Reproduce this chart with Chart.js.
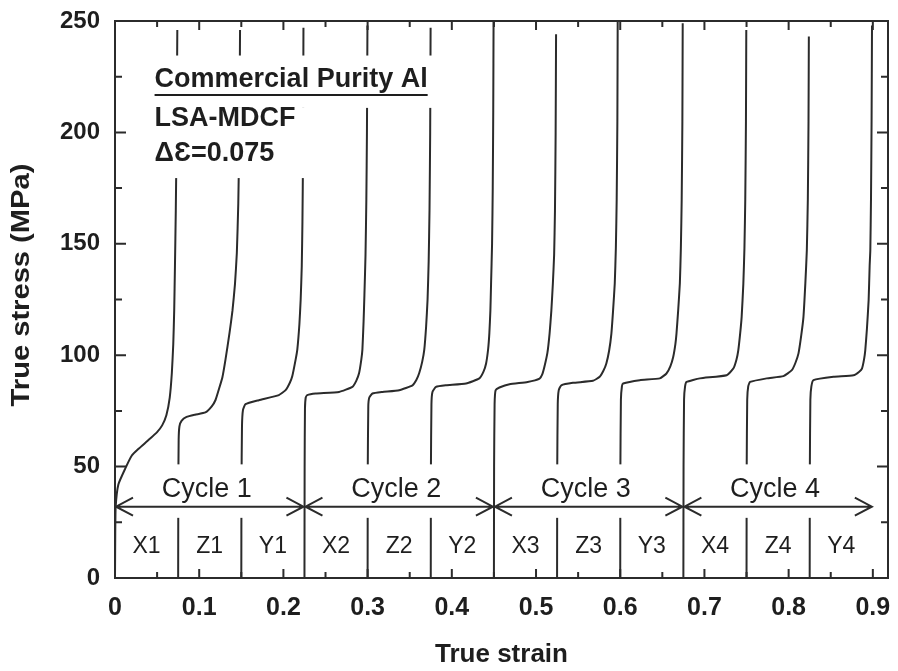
<!DOCTYPE html>
<html>
<head>
<meta charset="utf-8">
<title>True stress vs true strain</title>
<script src="https://cdn.jsdelivr.net/npm/chart.js@4.4.1/dist/chart.umd.min.js"></script>
<style>
  html, body { margin: 0; padding: 0; background: #fff; }
  #wrap { width: 898px; height: 671px; }
</style>
</head>
<body>
<div id="wrap"><canvas id="stressChart" width="898" height="671"></canvas></div>
<script>
// Curves: [true strain, true stress (MPa)]
const passX1 = [[0,0],[0.0003,20],[0.0008,32],[0.004,42],[0.012,49],[0.02,55],[0.028,58],[0.04,62],[0.05,65.5],[0.056,68.5],[0.061,73],[0.065,81],[0.0675,92],[0.0692,105],[0.0703,120],[0.0712,140],[0.0722,165],[0.0732,200],[0.074,246]];
const passZ1 = [[0.075,0],[0.0752,40],[0.0756,62],[0.0765,68],[0.079,70.5],[0.085,72.3],[0.095,73.3],[0.1074,74.3],[0.1149,77],[0.1195,80],[0.1232,84.5],[0.1275,90],[0.1312,98],[0.136,110],[0.1395,120],[0.1425,132],[0.1447,146],[0.1464,168],[0.1477,200],[0.1485,246]];
const passY1 = [[0.15,0],[0.1502,40],[0.1508,68],[0.152,75.5],[0.155,78],[0.1708,79.8],[0.1946,82.1],[0.2026,84.3],[0.2075,87.5],[0.2105,90.5],[0.2145,98],[0.2165,102.5],[0.219,114],[0.2205,125],[0.2218,140],[0.2226,160],[0.2233,190],[0.2238,247]];
const passX2 = [[0.225,0],[0.2252,50],[0.2256,76],[0.2265,81],[0.2283,82.1],[0.2383,82.8],[0.2661,83.5],[0.2819,85.8],[0.2865,88.5],[0.2899,92],[0.2925,98],[0.2938,102.5],[0.2952,115],[0.2962,127],[0.2975,145],[0.2985,170],[0.2992,200],[0.2998,248]];
const passZ2 = [[0.3,0],[0.3002,50],[0.3008,77],[0.302,81],[0.3057,82.8],[0.3176,83.5],[0.3375,84.3],[0.3533,86.5],[0.358,89],[0.3613,92],[0.3648,97],[0.3673,102.5],[0.3695,113],[0.3712,125],[0.3725,142],[0.3735,165],[0.3743,200],[0.3748,247]];
const passY2 = [[0.375,0],[0.3752,50],[0.3758,78],[0.377,83.5],[0.3812,85.8],[0.3931,86.5],[0.4169,87.3],[0.4327,89.6],[0.4375,92.5],[0.4407,96.3],[0.4432,103],[0.4446,110],[0.4458,120],[0.4466,132],[0.4478,150],[0.4486,175],[0.4492,210],[0.4496,252]];
const passX3 = [[0.45,0],[0.4502,50],[0.4508,78],[0.452,84.3],[0.4565,85.5],[0.4685,87],[0.49,88],[0.5042,89.5],[0.5075,91.5],[0.5101,95],[0.5135,101],[0.5161,109.7],[0.5182,120],[0.52,132.2],[0.5215,145],[0.5225,165],[0.5233,200],[0.5238,244]];
const passZ3 = [[0.525,0],[0.5252,50],[0.5258,78],[0.527,84.3],[0.53,86.5],[0.5438,87.6],[0.5676,88.5],[0.5756,90.3],[0.58,93],[0.5835,96.3],[0.5868,102],[0.5895,109.7],[0.5915,120],[0.5935,132.2],[0.5948,148],[0.5958,170],[0.5966,205],[0.597,252]];
const passY3 = [[0.6,0],[0.6002,50],[0.6008,80],[0.602,86],[0.6034,87.3],[0.6232,88.8],[0.647,89.6],[0.6549,91.8],[0.6595,95],[0.6629,99.2],[0.6655,105],[0.6668,109.7],[0.6688,120],[0.6708,132.2],[0.672,148],[0.673,170],[0.6738,205],[0.6742,249]];
const passX4 = [[0.675,0],[0.6752,50],[0.6758,80],[0.677,86],[0.6788,88],[0.6946,89.6],[0.7264,91],[0.7343,94],[0.738,98],[0.7402,102.2],[0.7425,110],[0.7442,117.2],[0.7462,132],[0.7475,148],[0.7485,170],[0.7493,205],[0.7497,246]];
const passZ4 = [[0.75,0],[0.7502,50],[0.7508,80],[0.752,86],[0.7542,88],[0.774,89.6],[0.7938,90.6],[0.8038,93.3],[0.808,96.5],[0.8117,100.8],[0.815,109],[0.8176,117.2],[0.8198,132],[0.8216,147.1],[0.8228,170],[0.8236,205],[0.824,243]];
const passY4 = [[0.825,0],[0.8252,50],[0.8258,80],[0.827,86],[0.8295,88.8],[0.8533,90.3],[0.8771,91],[0.8835,92.5],[0.8871,94],[0.8895,98],[0.891,102.2],[0.893,112],[0.895,124.7],[0.8962,140],[0.897,147.1],[0.8978,170],[0.8985,205],[0.899,248]];

const passNames = ['X1','Z1','Y1','X2','Z2','Y2','X3','Z3','Y3','X4','Z4','Y4'];
const passCurves = [passX1, passZ1, passY1, passX2, passZ2, passY2, passX3, passZ3, passY3, passX4, passZ4, passY4];
const passBounds = [0, 0.075, 0.15, 0.225, 0.3, 0.375, 0.45, 0.525, 0.6, 0.675, 0.75, 0.825, 0.9];

const cycleNames = ['Cycle 1', 'Cycle 2', 'Cycle 3', 'Cycle 4'];
const cycleBounds = [0, 0.225, 0.45, 0.675, 0.9];

const strainTicks = [0, 0.1, 0.2, 0.3, 0.4, 0.5, 0.6, 0.7, 0.8, 0.9];
const strainMinorTicks = [0.05, 0.15, 0.25, 0.35, 0.45, 0.55, 0.65, 0.75, 0.85];
const stressTicks = [0, 50, 100, 150, 200, 250];
const stressMinorTicks = [25, 75, 125, 175, 225];

const noteLines = ['Commercial Purity Al', 'LSA-MDCF', '\u0394\u0190=0.075'];

// Styling
const FONT = "'Liberation Sans', Arial, sans-serif";
const INK = '#1e1e1e';
const LINE = '#2b2b2b';

// Draw annotations, masks, arrows, ticks and titles
const overlayPlugin = {
  id: 'overlay',
  afterDatasetsDraw(chart) {
    const { ctx, scales: { x, y } } = chart;
    ctx.save();

    // white backing behind the text block (hides curve tops like the original)
    ctx.fillStyle = '#fff';
    const rect = (s0, s1, p0, p1) => {
      const x0 = x.getPixelForValue(s0), x1 = x.getPixelForValue(s1);
      const y0 = y.getPixelForValue(p1), y1 = y.getPixelForValue(p0);
      ctx.fillRect(x0, y0, x1 - x0, y1 - y0);
    };
    rect(0.04, 0.385, 211, 234.5);
    rect(0.04, 0.232, 179.5, 211);

    // note text
    ctx.fillStyle = INK;
    ctx.textBaseline = 'middle';
    ctx.textAlign = 'left';
    ctx.font = 'bold 27px ' + FONT;
    const noteX = x.getPixelForValue(0.047);
    const noteY = [223.5, 206, 190.5].map(v => y.getPixelForValue(v));
    noteLines.forEach((t, i) => ctx.fillText(t, noteX, noteY[i]));
    const w = ctx.measureText(noteLines[0]).width;
    ctx.strokeStyle = INK;
    ctx.lineWidth = 2;
    ctx.beginPath();
    ctx.moveTo(noteX, noteY[0] + 15);
    ctx.lineTo(noteX + w, noteY[0] + 15);
    ctx.stroke();

    // cycle arrows
    const arrowY = y.getPixelForValue(32);
    for (let i = 0; i < cycleNames.length; i++) {
      const s0 = cycleBounds[i], s1 = cycleBounds[i + 1];
      ctx.fillStyle = '#fff';
      rect(s0 + 0.02, s1 - 0.02, 27, 51);
      const xa = x.getPixelForValue(s0), xb = x.getPixelForValue(s1);
      ctx.strokeStyle = LINE;
      ctx.lineWidth = 2;
      ctx.beginPath();
      ctx.moveTo(xa + 1, arrowY);
      ctx.lineTo(xb - 1, arrowY);
      ctx.moveTo(xa + 18, arrowY - 9);
      ctx.lineTo(xa + 1, arrowY);
      ctx.lineTo(xa + 18, arrowY + 9);
      ctx.moveTo(xb - 18, arrowY - 9);
      ctx.lineTo(xb - 1, arrowY);
      ctx.lineTo(xb - 18, arrowY + 9);
      ctx.stroke();
      ctx.fillStyle = INK;
      ctx.textAlign = 'center';
      ctx.font = '27px ' + FONT;
      ctx.fillText(cycleNames[i], (xa + xb) / 2 - 3, y.getPixelForValue(39.5));
    }

    // pass labels
    ctx.font = '23px ' + FONT;
    const labelY = y.getPixelForValue(14);
    passNames.forEach((n, i) => {
      const xm = x.getPixelForValue((passBounds[i] + passBounds[i + 1]) / 2);
      ctx.fillText(n, xm, labelY);
    });
    ctx.restore();
  },
  afterDraw(chart) {
    const { ctx, chartArea: a, scales: { x, y } } = chart;
    ctx.save();
    ctx.strokeStyle = LINE;
    ctx.lineWidth = 2;
    ctx.strokeRect(a.left, a.top, a.right - a.left, a.bottom - a.top);

    // inward ticks on all four sides
    ctx.beginPath();
    const xt = (v, len) => {
      const px = x.getPixelForValue(v);
      ctx.moveTo(px, a.bottom); ctx.lineTo(px, a.bottom - len);
      ctx.moveTo(px, a.top); ctx.lineTo(px, a.top + len);
    };
    const yt = (v, len) => {
      const py = y.getPixelForValue(v);
      ctx.moveTo(a.left, py); ctx.lineTo(a.left + len, py);
      ctx.moveTo(a.right, py); ctx.lineTo(a.right - len, py);
    };
    strainTicks.forEach(v => xt(v, 9));
    strainMinorTicks.forEach(v => xt(v, 6));
    stressTicks.forEach(v => yt(v, 11));
    stressMinorTicks.forEach(v => yt(v, 7));
    ctx.stroke();

    // axis titles
    ctx.fillStyle = INK;
    ctx.font = 'bold 26px ' + FONT;
    ctx.textAlign = 'center';
    ctx.textBaseline = 'middle';
    ctx.fillText('True strain', (a.left + a.right) / 2, 655);
    ctx.translate(22, 285);
    ctx.rotate(-Math.PI / 2);
    ctx.scale(1.12, 1);
    ctx.fillText('True stress (MPa)', 0, 0);
    ctx.restore();
  }
};

function buildDatasets() {
  return passCurves.map((curve, i) => ({
    label: passNames[i],
    data: curve.map(p => ({ x: p[0], y: p[1] })),
    borderColor: LINE,
    borderWidth: 2,
    pointRadius: 0,
    tension: 0.15,
    fill: false
  }));
}

function createStressChart() {
  const ctx = document.getElementById('stressChart').getContext('2d');
  new Chart(ctx, {
    type: 'line',
    data: { datasets: buildDatasets() },
    options: {
      responsive: false,
      animation: false,
      events: [],
      layout: { padding: { top: 21, right: 10, left: 0, bottom: 0 } },
      plugins: { legend: { display: false }, tooltip: { enabled: false } },
      scales: {
        x: {
          type: 'linear',
          min: 0,
          max: 0.918,
          grid: { display: false, drawTicks: false },
          border: { display: false },
          afterBuildTicks: s => { s.ticks = strainTicks.map(v => ({ value: v })); },
          afterFit: s => { s.height = 93; s.paddingLeft = 0; s.paddingRight = 0; },
          ticks: {
            padding: 15,
            color: INK,
            font: { family: FONT, size: 25, weight: 'bold' },
            callback: v => String(Number(v.toFixed(1)))
          }
        },
        y: {
          type: 'linear',
          min: 0,
          max: 250,
          grid: { display: false, drawTicks: false },
          border: { display: false },
          afterBuildTicks: s => { s.ticks = stressTicks.map(v => ({ value: v })); },
          afterFit: s => { s.width = 115; s.paddingTop = 0; s.paddingBottom = 0; },
          ticks: {
            padding: 15,
            color: INK,
            font: { family: FONT, size: 24, weight: 'bold' }
          }
        }
      }
    },
    plugins: [overlayPlugin]
  });
}

document.addEventListener('DOMContentLoaded', createStressChart);
</script>
</body>
</html>
